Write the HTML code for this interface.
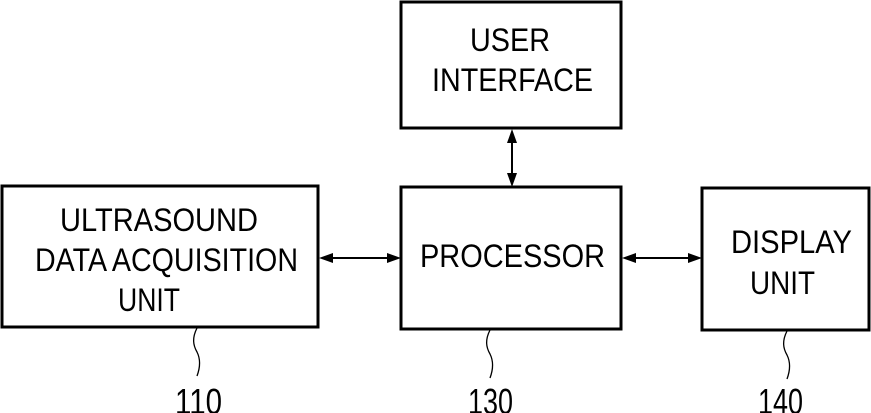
<!DOCTYPE html>
<html><head><style>html,body{margin:0;padding:0;background:#fff}svg{display:block}</style></head>
<body>
<svg width="871" height="413" viewBox="0 0 871 413" xmlns="http://www.w3.org/2000/svg">
<g fill="none" stroke="#000" stroke-width="3">
<rect x="2" y="186" width="316" height="141"/>
<rect x="401" y="2" width="220" height="126"/>
<rect x="401" y="187" width="220" height="142"/>
<rect x="702" y="188" width="167" height="142"/>
</g>
<g stroke="#000" stroke-width="2">
<line x1="330" y1="258" x2="390" y2="258"/>
<line x1="633" y1="258" x2="690" y2="258"/>
<line x1="512" y1="140" x2="512" y2="176"/>
</g>
<g fill="#000">
<polygon points="319,258 333,253 333,263"/>
<polygon points="401,258 387,253 387,263"/>
<polygon points="622,258 636,253 636,263"/>
<polygon points="702,258 688,253 688,263"/>
<polygon points="512,129 507,143 517,143"/>
<polygon points="512,187 507,173 517,173"/>
</g>
<g fill="none" stroke="#000" stroke-width="1.3">
<path d="M197,328 C192,338 193,345 197,352 C201,360 200,368 197,376"/>
<path d="M490,330 C485,340 486,347 490,354 C494,362 493,370 490,378"/>
<path d="M787,331 C782,341 783,348 787,355 C791,363 790,371 787,379"/>
</g>
<g font-family="Liberation Sans, sans-serif" font-size="32" fill="#000" lengthAdjust="spacingAndGlyphs">
<text x="60" y="231" textLength="198" lengthAdjust="spacingAndGlyphs">ULTRASOUND</text>
<text x="35" y="271" textLength="263" lengthAdjust="spacingAndGlyphs">DATA ACQUISITION</text>
<text x="118" y="311" textLength="62" lengthAdjust="spacingAndGlyphs">UNIT</text>
<text x="470" y="51" textLength="80" lengthAdjust="spacingAndGlyphs">USER</text>
<text x="432" y="91" textLength="161" lengthAdjust="spacingAndGlyphs">INTERFACE</text>
<text x="420" y="267" textLength="185" lengthAdjust="spacingAndGlyphs">PROCESSOR</text>
<text x="731" y="253" textLength="121" lengthAdjust="spacingAndGlyphs">DISPLAY</text>
<text x="750" y="294" textLength="65" lengthAdjust="spacingAndGlyphs">UNIT</text>
</g>
<g font-family="Liberation Sans, sans-serif" font-size="36" fill="#000">
<text x="175" y="414" textLength="47" lengthAdjust="spacingAndGlyphs">110</text>
<text x="468" y="414" textLength="45" lengthAdjust="spacingAndGlyphs">130</text>
<text x="758" y="414" textLength="45" lengthAdjust="spacingAndGlyphs">140</text>
</g>
</svg>
</body></html>
